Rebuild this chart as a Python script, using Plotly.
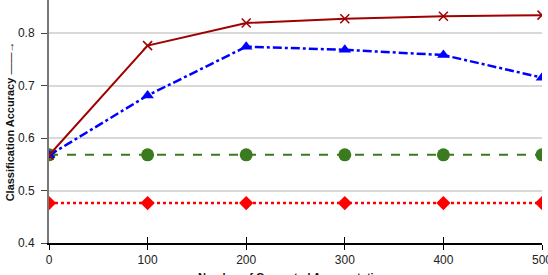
import plotly.graph_objects as go

x_vals = [0, 100, 200, 300, 400, 500]
series_darkred = [0.567, 0.776, 0.819, 0.827, 0.832, 0.834]
series_blue = [0.567, 0.681, 0.774, 0.768, 0.758, 0.715]
series_green = [0.568, 0.568, 0.568, 0.568, 0.568, 0.568]
series_red = [0.476, 0.476, 0.476, 0.476, 0.476, 0.476]
y_ticks = [0.4, 0.5, 0.6, 0.7, 0.8]
x_ticks = [0, 100, 200, 300, 400, 500]
x_title = "Number of Generated Augmentations"
y_title = "Classification Accuracy"

fig = go.Figure()
fig.add_trace(go.Scatter(x=x_vals, y=series_red, mode="lines+markers",
                         line=dict(color="#FF0000", width=2.5, dash="dot"),
                         marker=dict(symbol="diamond", size=11, color="#FF0000")))
fig.add_trace(go.Scatter(x=x_vals, y=series_green, mode="lines+markers",
                         line=dict(color="#3B7A1E", width=2, dash="dash"),
                         marker=dict(symbol="circle", size=13, color="#3B7A1E")))
fig.add_trace(go.Scatter(x=x_vals, y=series_blue, mode="lines+markers",
                         line=dict(color="#0000FF", width=2.5, dash="dashdot"),
                         marker=dict(symbol="triangle-up", size=11, color="#0000FF")))
fig.add_trace(go.Scatter(x=x_vals, y=series_darkred, mode="lines+markers",
                         line=dict(color="#A00000", width=2),
                         marker=dict(symbol="x-thin", size=9, color="#A00000",
                                     line=dict(color="#A00000", width=1.5))))
# invisible trace on overlay axis for inside ticks
fig.add_trace(go.Scatter(x=x_vals, y=series_red, xaxis="x2", mode="none",
                         hoverinfo="skip", showlegend=False))

fig.update_layout(
    width=548, height=275,
    margin=dict(l=49, r=6, t=0, b=32),
    paper_bgcolor="white", plot_bgcolor="white",
    showlegend=False,
    font=dict(family="Liberation Sans, Arial, sans-serif", size=12, color="#222"),
    xaxis=dict(range=[0, 500], tickvals=x_ticks, ticks="outside", ticklen=5,
               tickwidth=1.2, tickcolor="black", showline=True, linecolor="black",
               linewidth=1.5, showgrid=False, zeroline=False, automargin=False,
               ticklabeloverflow="allow", tickfont=dict(size=12)),
    xaxis2=dict(range=[0, 500], overlaying="x", tickvals=x_ticks, ticks="inside",
                ticklen=6, tickwidth=1.2, tickcolor="black", showticklabels=False,
                showgrid=False, zeroline=False, showline=False, automargin=False),
    yaxis=dict(range=[0.4, 0.4 + 243 / 525], tickvals=y_ticks, ticktext=[f"{v:.1f}" for v in y_ticks],
               ticks="outside", ticklen=6, tickwidth=1.2, tickcolor="#444",
               showline=True, linecolor="#777", linewidth=2, automargin=False,
               ticklabeloverflow="allow",
               showgrid=True, gridcolor="#D9D9D9", gridwidth=1.5, zeroline=False,
               ticklabelstandoff=4,
               title=dict(text=f"<b>{y_title}</b> <span style='font-weight:normal'>\u2014\u2014\u2192</span>",
                          font=dict(size=11, color="#111"), standoff=1),
               tickfont=dict(size=12)),
    annotations=[dict(text=f"<b>{x_title}</b>", xref="paper", yref="paper",
                      x=0.5, y=-0.105, xanchor="center", yanchor="top",
                      showarrow=False, font=dict(size=11, color="#111"))],
)

fig.write_html("out.html", post_script="document.body.style.margin='0';",
               config={"displayModeBar": False})
